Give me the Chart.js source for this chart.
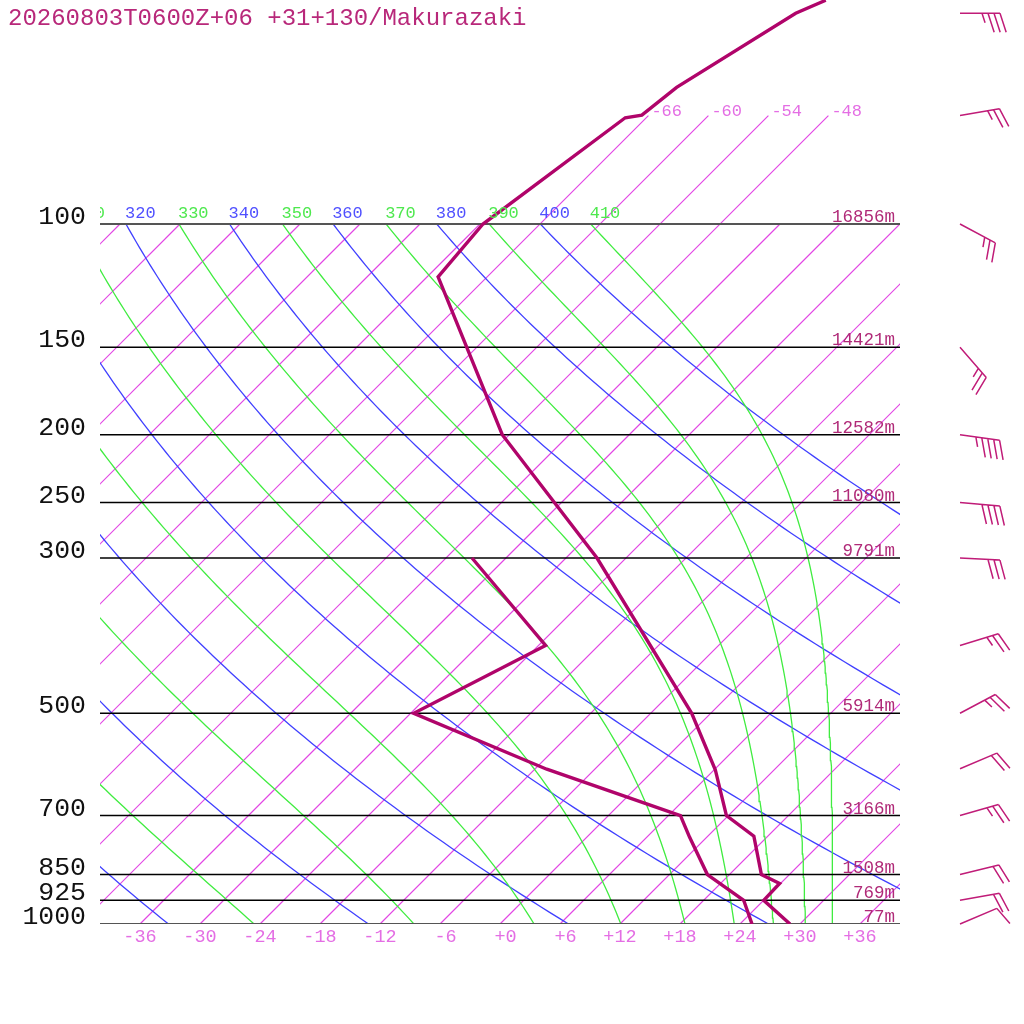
<!DOCTYPE html>
<html>
<head>
<meta charset="utf-8">
<title>Makurazaki skew-T</title>
<script src="https://cdn.jsdelivr.net/npm/chart.js@4.4.1/dist/chart.umd.min.js"></script>
<style>
  html, body { margin: 0; padding: 0; background: #fff; }
  canvas { display: block; }
</style>
</head>
<body>
<canvas id="skewt" width="1024" height="1024"></canvas>
<script>
// sounding (hPa, deg C)
const tempP = [1000, 925, 875, 850, 749, 700, 602, 500, 300, 200, 119, 100, 70.5, 69.9, 63.8, 50, 47.9];
const tempT = [29.0, 24.0, 23.9, 21.2, 16.6, 11.8, 6.1, -1.9, -26.9, -48.7, -70.9, -71.7, -68.1, -66.7, -66.0, -61.5, -59.8];
const dewP = [1000, 925, 850, 752, 700, 601, 500, 400, 300];
const dewT = [25.2, 22.0, 15.8, 10.3, 7.2, -10.8, -29.7, -23.3, -39.4];

// winds: direction (deg) and speed (kt)
const windP = [50, 70, 100, 150, 200, 250, 300, 400, 500, 600, 700, 850, 925, 1000];
const windDir = [90, 80, 118, 139, 98, 95, 93, 73, 62, 67, 74, 76, 80, 67];
const windSpd = [35, 25, 25, 25, 45, 40, 30, 25, 25, 20, 25, 20, 20, 10];

// standard levels and their heights
const levelP = [100, 150, 200, 250, 300, 500, 700, 850, 925, 1000];
const levelH = [16856, 14421, 12582, 11080, 9791, 5914, 3166, 1508, 769, 77];

// background lines
const isotherms = [];
for (let t = -108; t <= 36; t += 6) isotherms.push(t);
const topIsotherms = [-66, -60, -54, -48];
const bottomTicks = [-36, -30, -24, -18, -12, -6, 0, 6, 12, 18, 24, 30, 36];
const dryTheta = [240, 260, 280, 300, 320, 340, 360, 380, 400];
const moistTheta = [250, 270, 290, 310, 330, 350, 370, 390, 410];

const title = "20260803T0600Z+06 +31+130/Makurazaki";

const SKEW = 30.4;   // skew in deg C per unit of ln(1000/p)
const FONT = '"Liberation Mono", "DejaVu Sans Mono", monospace';

function skewX(t, p) {
    return t + SKEW * Math.log(1000 / p);
}

// saturated equivalent potential temperature (Bolton 1980)
function thetaESat(tc, p) {
    const es = 6.112 * Math.exp(17.67 * tc / (tc + 243.5));
    if (es > 0.8 * p) return 1e9;
    const r = 622 * es / (p - es);
    const tk = tc + 273.15;
    return tk * Math.pow(1000 / p, 0.2854 * (1 - 0.00028 * r)) *
        Math.exp((3.376 / tk - 0.00254) * r * (1 + 0.00081 * r));
}

function moistT(the, p) {
    let lo = -170, hi = 60;
    for (let i = 0; i < 60; i++) {
        const mid = (lo + hi) / 2;
        if (thetaESat(mid, p) > the) hi = mid; else lo = mid;
    }
    return (lo + hi) / 2;
}

function dryT(th, p) {
    return th * Math.pow(p / 1000, 0.2857) - 273.15;
}

// pressures for the curves, from 1000 up to 100 hPa
const curveP = [];
for (let i = 0; i <= 120; i++) curveP.push(1000 * Math.pow(10, -i / 120));

function lineSet(points, color, width, order) {
    return {
        data: points,
        borderColor: color,
        borderWidth: width,
        pointRadius: 0,
        fill: false,
        tension: 0,
        order: order
    };
}

const datasets = [];

datasets.push(lineSet(tempP.map((p, i) => ({ x: skewX(tempT[i], p), y: p })), "#b0046a", 3.4, 0));
datasets.push(lineSet(dewP.map((p, i) => ({ x: skewX(dewT[i], p), y: p })), "#b0046a", 3.4, 0));

// listed right to left: x-sorted data gets trimmed by chart.js and drawn wrong
levelP.forEach(p => {
    const edge = (p === 100 || p === 1000);
    datasets.push(lineSet([{ x: 40, y: p }, { x: -40, y: p }], edge ? "#555555" : "#000000", edge ? 2 : 1.5, 1));
});

// isotherms listed top end first, same reason
isotherms.forEach(t => {
    const top = topIsotherms.includes(t) ? 70 : 100;
    datasets.push(lineSet([{ x: skewX(t, top), y: top }, { x: skewX(t, 1000), y: 1000 }], "rgb(226,70,228)", 1.2, 4));
});

dryTheta.forEach(th => {
    datasets.push(lineSet(curveP.map(p => ({ x: skewX(dryT(th, p), p), y: p })), "rgb(64,64,255)", 1.3, 3));
});

moistTheta.forEach(th => {
    datasets.push(lineSet(curveP.map(p => ({ x: skewX(moistT(th, p), p), y: p })), "rgb(64,236,64)", 1.3, 2));
});

function drawBarb(ctx, x0, y0, dir, spd) {
    const rad = dir * Math.PI / 180;
    const ux = Math.sin(rad), uy = -Math.cos(rad);
    const len = 40;
    const tx = x0 + ux * len, ty = y0 + uy * len;
    const a = Math.atan2(uy, ux) + 72 * Math.PI / 180;
    const fx = Math.cos(a), fy = Math.sin(a);
    ctx.beginPath();
    ctx.moveTo(x0, y0);
    ctx.lineTo(tx, ty);
    let rest = Math.round(spd / 5) * 5;
    let d = 0;
    while (rest >= 50) {
        const bx = tx - ux * d, by = ty - uy * d;
        ctx.moveTo(bx, by);
        ctx.lineTo(bx + fx * 20, by + fy * 20);
        ctx.lineTo(bx - ux * 8, by - uy * 8);
        d += 10;
        rest -= 50;
    }
    while (rest >= 10) {
        const bx = tx - ux * d, by = ty - uy * d;
        ctx.moveTo(bx, by);
        ctx.lineTo(bx + fx * 20, by + fy * 20);
        d += 6;
        rest -= 10;
    }
    if (rest >= 5) {
        const bx = tx - ux * d, by = ty - uy * d;
        ctx.moveTo(bx, by);
        ctx.lineTo(bx + fx * 10, by + fy * 10);
    }
    ctx.stroke();
}

const labelPlugin = {
    id: "skewtLabels",
    afterDatasetsDraw(chart) {
        const { ctx, chartArea, scales } = chart;
        const xs = scales.x, ys = scales.y;
        ctx.save();

        // title
        ctx.font = "24px " + FONT;
        ctx.fillStyle = "#b8287a";
        ctx.textAlign = "left";
        ctx.textBaseline = "alphabetic";
        ctx.fillText(title, 8, 25);

        // pressure labels
        ctx.font = "26.5px " + FONT;
        ctx.fillStyle = "#111111";
        ctx.textAlign = "right";
        levelP.forEach(p => ctx.fillText(String(p), 86, ys.getPixelForValue(p)));

        // heights
        ctx.font = "17.5px " + FONT;
        ctx.fillStyle = "#b02a78";
        levelP.forEach((p, i) => ctx.fillText(levelH[i] + "m", chartArea.right - 5, ys.getPixelForValue(p) - 2));

        // temperature ticks along the bottom
        ctx.font = "18.5px " + FONT;
        ctx.fillStyle = "#e46ee4";
        ctx.textAlign = "center";
        const yb = ys.getPixelForValue(1000);
        bottomTicks.forEach(t => {
            const s = (t < 0 ? "-" : "+") + Math.abs(t);
            ctx.fillText(s.padStart(3, " "), xs.getPixelForValue(skewX(t, 1000)), yb + 18);
        });

        // isotherm labels at their top end
        ctx.font = "17px " + FONT;
        ctx.textAlign = "left";
        topIsotherms.forEach(t => {
            ctx.fillText(String(t), xs.getPixelForValue(skewX(t, 70)) + 3, ys.getPixelForValue(70));
        });

        // adiabat labels above the 100 hPa line, clipped to the plot width
        ctx.save();
        ctx.beginPath();
        ctx.rect(chartArea.left, 0, chartArea.right - chartArea.left, chartArea.bottom);
        ctx.clip();
        const y100 = ys.getPixelForValue(100) - 6;
        ctx.fillStyle = "#5050ff";
        dryTheta.forEach(th => ctx.fillText(String(th), xs.getPixelForValue(skewX(dryT(th, 100), 100)) - 1, y100));
        ctx.fillStyle = "#4ee84e";
        moistTheta.forEach(th => ctx.fillText(String(th), xs.getPixelForValue(skewX(moistT(th, 100), 100)) - 1, y100));
        ctx.restore();

        // wind barbs in a column right of the plot
        ctx.strokeStyle = "#c01c78";
        ctx.lineWidth = 1.5;
        const bx = chartArea.right + 60;
        windP.forEach((p, i) => drawBarb(ctx, bx, ys.getPixelForValue(p), windDir[i], windSpd[i]));

        ctx.restore();
    }
};

new Chart(document.getElementById("skewt"), {
    type: "scatter",
    data: { datasets: datasets },
    options: {
        responsive: false,
        animation: false,
        devicePixelRatio: 1,
        showLine: true,
        layout: { padding: { left: 100, right: 124, top: 0, bottom: 100 } },
        plugins: {
            legend: { display: false },
            tooltip: { enabled: false }
        },
        scales: {
            x: { type: "linear", min: -40, max: 40, display: false },
            y: { type: "logarithmic", min: 1000 * Math.exp(-924 / 304), max: 1000, reverse: true, display: false }
        }
    },
    plugins: [labelPlugin]
});
</script>
</body>
</html>
